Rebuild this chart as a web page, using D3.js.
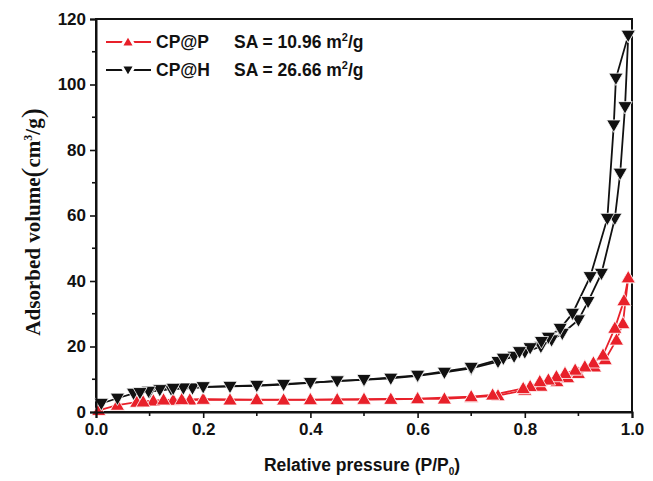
<!DOCTYPE html>
<html>
<head>
<meta charset="utf-8">
<script src="https://cdn.jsdelivr.net/npm/d3@7"></script>
<style>
  body { margin: 0; background: #fff; }
  svg { display: block; }
</style>
</head>
<body>
<svg id="chart" width="653" height="481"></svg>
<script>
// CP@H (black) — adsorption and desorption branches
const hAdsP = [0.01, 0.04, 0.07, 0.10, 0.14, 0.18, 0.20, 0.25, 0.30, 0.35, 0.40, 0.45, 0.50, 0.55, 0.60, 0.65, 0.70, 0.75, 0.78, 0.80, 0.83, 0.85, 0.87, 0.90, 0.918, 0.943, 0.968, 0.978, 0.987, 0.993];
const hAdsV = [2.6, 4.2, 5.7, 6.2, 7.0, 7.3, 7.6, 7.8, 8.0, 8.4, 8.9, 9.5, 9.8, 10.3, 11.0, 12.1, 13.3, 15.4, 17.0, 18.3, 20.0, 22.0, 24.0, 28.1, 33.7, 42.3, 59.1, 72.9, 93.2, 115];
const hDesP = [0.993, 0.970, 0.966, 0.954, 0.922, 0.889, 0.866, 0.844, 0.831, 0.81, 0.79, 0.76, 0.70, 0.60, 0.50, 0.40, 0.30, 0.20, 0.163, 0.144, 0.119, 0.098, 0.082];
const hDesV = [115, 101.9, 87.6, 59.1, 41.3, 30.1, 25.5, 22.8, 21.5, 19.6, 18.4, 16.4, 13.6, 11.2, 9.9, 9.0, 8.1, 7.7, 7.3, 7.2, 6.8, 6.3, 5.9];

// CP@P (red)
const pAdsP = [0.005, 0.04, 0.076, 0.107, 0.144, 0.175, 0.20, 0.25, 0.30, 0.35, 0.40, 0.45, 0.50, 0.55, 0.60, 0.65, 0.70, 0.75, 0.80, 0.83, 0.86, 0.88, 0.90, 0.93, 0.95, 0.971, 0.983, 0.993];
const pAdsV = [0.5, 2.1, 3.0, 3.4, 3.6, 3.7, 3.8, 3.7, 3.7, 3.7, 3.7, 3.8, 3.8, 3.9, 4.0, 4.0, 4.5, 5.0, 6.7, 7.9, 9.3, 10.5, 11.8, 13.8, 16.0, 22.0, 27.0, 41.0];
const pDesP = [0.993, 0.985, 0.968, 0.946, 0.928, 0.912, 0.894, 0.875, 0.859, 0.844, 0.828, 0.81, 0.797, 0.74, 0.70, 0.60, 0.50, 0.40, 0.30, 0.20, 0.16, 0.126, 0.088];
const pDesV = [41.0, 34.0, 25.6, 17.4, 15.0, 13.8, 12.8, 11.8, 10.8, 9.8, 9.3, 7.8, 7.2, 5.2, 4.7, 4.1, 3.9, 3.8, 3.8, 3.9, 3.8, 3.7, 3.1];

const xTicks = [0.0, 0.2, 0.4, 0.6, 0.8, 1.0];
const yTicks = [0, 20, 40, 60, 80, 100, 120];
const legendLabels = ["CP@P", "CP@H"];
const legendSA = ["10.96", "26.66"];

const svg = d3.select("#chart");
const mLeft = 96, mRight = 632, mTop = 19, mBottom = 412;

const x = d3.scaleLinear().domain([0, 1]).range([mLeft, mRight]);
const y = d3.scaleLinear().domain([0, 120]).range([mBottom, mTop]);

const plot = svg.append("g");

// frame
plot.append("rect")
  .attr("x", mLeft).attr("y", mTop)
  .attr("width", mRight - mLeft).attr("height", mBottom - mTop)
  .attr("fill", "none").attr("stroke", "#111").attr("stroke-width", 2);

// axes
const xAxis = d3.axisBottom(x).tickValues(xTicks).tickFormat(d3.format(".1f")).tickSize(6).tickPadding(5);
const yAxis = d3.axisLeft(y).tickValues(yTicks).tickFormat(d3.format("d")).tickSize(6).tickPadding(4);

const gx = svg.append("g").attr("transform", `translate(0,${mBottom})`).call(xAxis);
const gy = svg.append("g").attr("transform", `translate(${mLeft},0)`).call(yAxis);

[gx, gy].forEach(g => {
  g.select(".domain").attr("stroke", "#111").attr("stroke-width", 2);
  g.selectAll(".tick line").attr("stroke", "#111").attr("stroke-width", 1.6);
  g.selectAll(".tick text")
    .attr("fill", "#111")
    .style("font-family", "Liberation Sans, Arial, sans-serif")
    .style("font-weight", "bold")
    .style("font-size", "17px");
});

// minor ticks
const xMinor = d3.range(0.1, 1, 0.2);
const yMinor = d3.range(10, 120, 20);
svg.append("g").selectAll("line").data(xMinor).join("line")
  .attr("x1", d => x(d)).attr("x2", d => x(d))
  .attr("y1", mBottom).attr("y2", mBottom + 4)
  .attr("stroke", "#111").attr("stroke-width", 1.6);
svg.append("g").selectAll("line").data(yMinor).join("line")
  .attr("y1", d => y(d)).attr("y2", d => y(d))
  .attr("x1", mLeft).attr("x2", mLeft - 4)
  .attr("stroke", "#111").attr("stroke-width", 1.6);

// series
const line = d3.line().x(d => x(d[0])).y(d => y(d[1]));
const zip = (a, b) => a.map((v, i) => [v, b[i]]);

const series = [
  { color: "#e8202a", rot: 0, branches: [zip(pAdsP, pAdsV), zip(pDesP, pDesV)] },
  { color: "#111111", rot: 180, branches: [zip(hAdsP, hAdsV), zip(hDesP, hDesV)] }
];

const tri = d3.symbol().type(d3.symbolTriangle).size(88);

series.forEach(s => {
  s.branches.forEach(pts => {
    plot.append("path")
      .attr("d", line(pts))
      .attr("fill", "none")
      .attr("stroke", s.color)
      .attr("stroke-width", 1.8);
  });
});
series.forEach(s => {
  s.branches.forEach(pts => {
    plot.append("g").selectAll("path").data(pts).join("path")
      .attr("d", tri)
      .attr("transform", d => `translate(${x(d[0])},${y(d[1]) + (s.rot ? -1 : 1)}) rotate(${s.rot})`)
      .attr("fill", s.color)
      .attr("stroke", "#fff")
      .attr("stroke-width", 0.8);
  });
});

// legend
const leg = svg.append("g");
[0, 1].forEach(i => {
  const s = series[i];
  const ly = 42 + i * 28;
  leg.append("line").attr("x1", 106).attr("x2", 151).attr("y1", ly).attr("y2", ly)
    .attr("stroke", s.color).attr("stroke-width", 1.8);
  leg.append("path").attr("d", tri)
    .attr("transform", `translate(128,${ly + (s.rot ? -1 : 1)}) rotate(${s.rot})`)
    .attr("fill", s.color).attr("stroke", "#fff").attr("stroke-width", 3);
  const t = leg.append("text")
    .attr("x", 156).attr("y", ly + 6)
    .attr("fill", "#111")
    .style("font-family", "Liberation Sans, Arial, sans-serif")
    .style("font-weight", "bold")
    .style("font-size", "17.5px");
  t.append("tspan").text(legendLabels[i]);
  t.append("tspan").attr("x", 234).text(`SA = ${legendSA[i]} m`);
  t.append("tspan").attr("dy", -7).style("font-size", "11px").text("2");
  t.append("tspan").attr("dy", 7).text("/g");
});

// x title
const xt = svg.append("text")
  .attr("x", 362).attr("y", 471)
  .attr("text-anchor", "middle")
  .attr("fill", "#111")
  .style("font-family", "Liberation Sans, Arial, sans-serif")
  .style("font-weight", "bold")
  .style("font-size", "17.5px");
xt.append("tspan").text("Relative pressure (P/P");
xt.append("tspan").attr("dy", 4).style("font-size", "10px").text("0");
xt.append("tspan").attr("dy", -4).text(")");

// y title
const yt = svg.append("text")
  .attr("transform", "translate(40,222) rotate(-90)")
  .attr("text-anchor", "middle")
  .attr("fill", "#111")
  .style("font-family", "Liberation Serif, Times New Roman, serif")
  .style("font-weight", "bold")
  .style("font-size", "21px");
yt.append("tspan").text("Adsorbed volume");
yt.append("tspan").attr("dy", 2).style("font-size", "30px").style("font-weight", "normal").text("(");
yt.append("tspan").attr("dy", -2).text("cm");
yt.append("tspan").attr("dy", -8).style("font-size", "12px").text("3");
yt.append("tspan").attr("dy", 8).text("/g");
yt.append("tspan").attr("dy", 2).style("font-size", "30px").style("font-weight", "normal").text(")");
</script>
</body>
</html>
